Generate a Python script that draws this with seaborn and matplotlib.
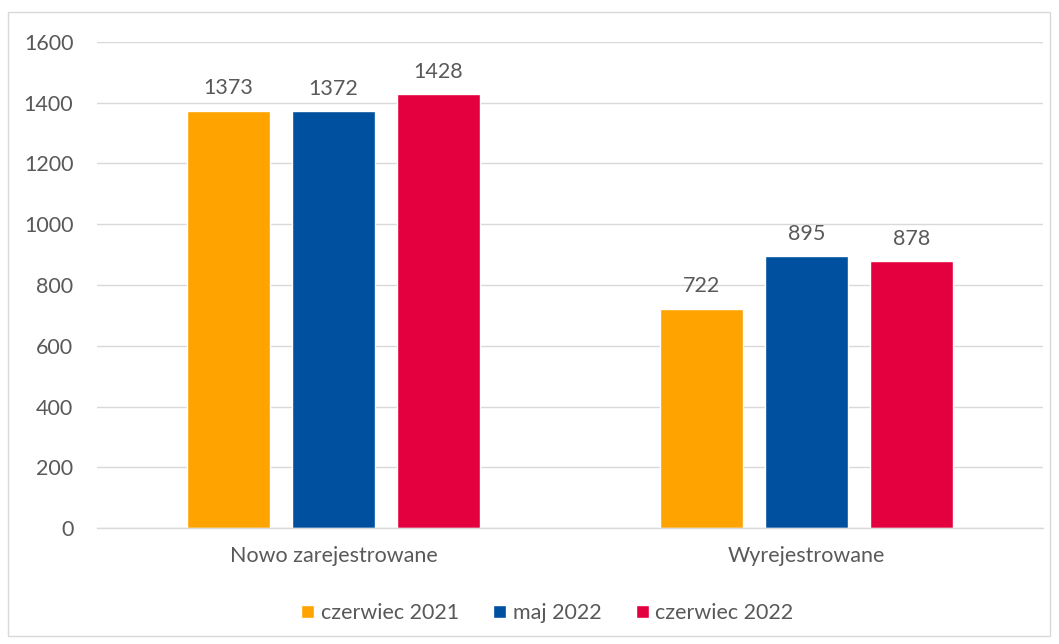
import matplotlib
matplotlib.use("Agg")
import matplotlib.pyplot as plt
import seaborn as sns
import pandas as pd
from matplotlib.patches import Rectangle

categories = ["Nowo zarejestrowane", "Wyrejestrowane"]
series = ["czerwiec 2021", "maj 2022", "czerwiec 2022"]
v_cz2021 = [1373, 722]
v_maj2022 = [1372, 895]
v_cz2022 = [1428, 878]
colors = ["#FFA300", "#0050A0", "#E4003F"]

rows = []
for s, vals in zip(series, [v_cz2021, v_maj2022, v_cz2022]):
    for c, v in zip(categories, vals):
        rows.append({"cat": c, "series": s, "val": v})
df = pd.DataFrame(rows)

sns.set_theme(style="white")
plt.rcParams['font.family'] = ['Lato', 'DejaVu Sans']
txt = "#595959"
fs = 15.5

fig = plt.figure(figsize=(10.59, 6.44), dpi=100)
ax = fig.add_axes([0.0916, 0.180, 0.8934, 0.755])
sns.barplot(data=df, x="cat", y="val", hue="series", palette=colors,
            order=categories, hue_order=series, width=0.666, gap=0.21,
            ax=ax, saturation=1, legend=True)

ax.set_ylim(0, 1600)
ax.set_xlim(-0.5, 1.5)
ax.set_yticks(range(0, 1601, 200))
ax.yaxis.grid(True, color="#D9D9D9", linewidth=1)
ax.set_axisbelow(True)
for s in ["top", "right", "left"]:
    ax.spines[s].set_visible(False)
ax.spines["bottom"].set_color("#D9D9D9")
ax.spines["bottom"].set_linewidth(1)
ax.tick_params(axis="both", length=0, labelsize=fs, colors=txt)
ax.tick_params(axis="y", pad=17)
ax.tick_params(axis="x", pad=13)
ax.set_xlabel("")
ax.set_ylabel("")

for cont in ax.containers:
    ax.bar_label(cont, padding=9, fontsize=fs, color=txt)

h, l = ax.get_legend_handles_labels()
ax.legend(h, l, loc="center", bbox_to_anchor=(0.476, -0.175), ncol=3, frameon=False,
          fontsize=fs, labelcolor=txt, handlelength=0.6, handleheight=0.6,
          handletextpad=0.3, columnspacing=1.6)

fig.patches.append(Rectangle((8/1059, 8/644), 1042/1059, 624/644, transform=fig.transFigure,
                             fill=False, edgecolor="#D9D9D9", linewidth=1))
fig.savefig("out.png", dpi=100)
